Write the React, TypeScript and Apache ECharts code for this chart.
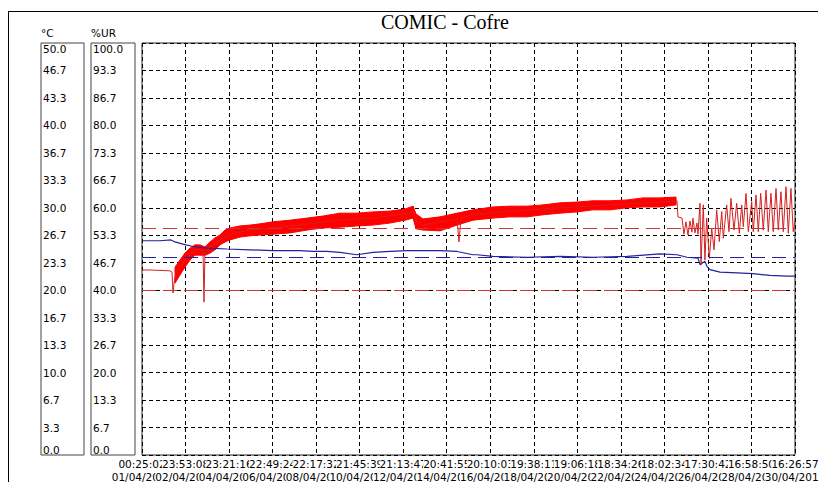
import React, { useEffect, useRef } from "react";
import * as echarts from "echarts";

// X axis tick labels (one every 47h28m)
const timeLabels = ["00:25:02", "23:53:08", "23:21:16", "22:49:24", "22:17:32", "21:45:39", "21:13:47", "20:41:55", "20:10:03", "19:38:11", "19:06:18", "18:34:26", "18:02:34", "17:30:42", "16:58:50", "16:26:57"];
const dateLabels = ["01/04/2012", "02/04/2012", "04/04/2012", "06/04/2012", "08/04/2012", "10/04/2012", "12/04/2012", "14/04/2012", "16/04/2012", "18/04/2012", "20/04/2012", "22/04/2012", "24/04/2012", "26/04/2012", "28/04/2012", "30/04/2012"];

// Y tick labels
const tempTicks = ["0.0", "3.3", "6.7", "10.0", "13.3", "16.7", "20.0", "23.3", "26.7", "30.0", "33.3", "36.7", "40.0", "43.3", "46.7", "50.0"];
const urTicks = ["0.0", "6.7", "13.3", "20.0", "26.7", "33.3", "40.0", "46.7", "53.3", "60.0", "66.7", "73.3", "80.0", "86.7", "93.3", "100.0"];

// Temperature (°C), elapsed hours
const tempHours = [0, 19.6, 31.6, 34.9, 44.7, 55.6, 70.9, 92.7, 117.8, 142.8, 172.3, 186.4, 201.7, 215.9, 234.4, 251.9, 270.4, 288.9, 306.4, 324.9, 343.5, 360.9, 365.3, 382.7, 419.8, 455.8, 491.7, 528.8, 564.8, 583.3, 594.2, 606.2, 608.4, 613.8, 616.0, 619.3, 630.2, 648.8, 666.2, 684.7, 703.3, 712.0];
const tempValues = [26.0, 26.0, 26.1, 25.9, 25.6, 25.3, 25.1, 25.0, 24.9, 24.8, 24.8, 24.7, 24.7, 24.6, 24.3, 24.6, 24.7, 24.8, 24.8, 24.8, 24.7, 24.3, 24.3, 24.1, 24.0, 24.1, 24.0, 24.1, 24.4, 24.3, 24.0, 23.9, 23.1, 23.5, 22.9, 22.5, 22.2, 22.1, 22.0, 21.8, 21.7, 21.7];
const tempLimits = [24];

// Relative humidity (%UR) dense band: hours, lower and upper envelope
const bandHours = [36.0, 41.4, 46.9, 52.3, 57.8, 63.2, 68.7, 74.1, 79.6, 85.0, 90.5, 95.9, 106.9, 117.8, 128.7, 142.8, 161.4, 179.9, 197.4, 215.9, 234.4, 251.9, 270.4, 286.8, 295.5, 298.8, 306.4, 324.9, 343.5, 360.9, 382.7, 401.2, 419.8, 437.2, 455.8, 474.3, 491.7, 510.3, 528.8, 546.3, 564.8, 582.3];
const bandLow = [41.7, 43.7, 45.6, 47.3, 48.5, 48.5, 48.5, 49.0, 49.8, 51.0, 51.7, 52.2, 52.9, 53.2, 53.4, 53.6, 53.9, 54.6, 55.1, 55.3, 55.6, 55.8, 56.3, 57.0, 57.5, 54.9, 54.6, 54.4, 55.8, 57.0, 57.5, 57.8, 57.8, 58.3, 58.7, 59.0, 59.5, 59.5, 60.0, 60.2, 60.2, 60.7];
const bandHigh = [45.6, 47.3, 49.0, 50.2, 51.0, 51.0, 50.5, 51.7, 52.7, 53.4, 54.6, 55.1, 55.6, 55.8, 56.1, 56.6, 57.0, 57.5, 58.0, 58.7, 58.7, 59.0, 59.2, 59.7, 60.4, 58.5, 57.3, 57.8, 58.7, 59.5, 60.2, 60.4, 60.4, 60.7, 61.2, 61.4, 61.7, 61.7, 61.9, 62.4, 62.4, 62.6];

// Relative humidity (%UR) trace: hours and values
const urHours = [0, 8.7, 19.6, 30.5, 32.7, 33.8, 34.9, 37.1, 41.4, 46.9, 52.3, 57.8, 63.2, 66.5, 67.6, 68.7, 74.1, 85.0, 95.9, 117.8, 142.8, 179.9, 215.9, 251.9, 286.8, 295.5, 298.8, 306.4, 324.9, 343.5, 345.6, 347.8, 360.9, 401.2, 455.8, 510.3, 564.8, 583.3, 584.4, 588.8, 590.9, 593.1, 595.3, 597.5, 599.6, 600.7, 602.9, 605.1, 606.2, 608.4, 609.5, 612.0, 613.8, 615.7, 618.6, 621.2, 623.7, 626.6, 629.5, 632.1, 633.8, 637.5, 640.0, 642.2, 645.5, 648.4, 651.3, 653.9, 655.6, 658.6, 661.1, 664.8, 666.5, 669.5, 672.0, 674.6, 677.4, 680.4, 682.9, 685.8, 688.3, 691.3, 693.8, 696.7, 699.2, 702.2, 704.7, 707.6, 710.1, 712.0];
const urValues = [44.9, 44.9, 44.8, 44.7, 44.4, 39.3, 41.7, 44.4, 45.6, 47.3, 48.8, 49.8, 49.8, 49.8, 37.1, 49.5, 50.5, 52.2, 53.6, 54.6, 55.1, 56.1, 57.0, 57.5, 58.5, 59.0, 56.8, 55.8, 56.6, 57.3, 51.7, 57.5, 58.3, 59.2, 60.0, 60.7, 61.4, 61.7, 57.8, 57.5, 53.6, 56.6, 53.4, 56.8, 54.1, 57.5, 53.9, 56.3, 53.6, 61.1, 46.1, 60.7, 47.3, 57.5, 47.7, 55.0, 49.8, 59.5, 51.8, 59.1, 52.6, 60.7, 54.2, 62.3, 54.6, 61.1, 53.8, 60.7, 55.4, 63.5, 54.2, 61.5, 54.2, 63.1, 54.2, 63.5, 54.6, 64.3, 54.2, 63.5, 54.2, 64.7, 54.6, 63.9, 54.2, 65.1, 53.8, 64.7, 54.2, 57.0];
const urLimits = [40, 55];

const MIN_PER_TICK = 2848;
const LABEL_FONT = "DejaVu Sans";

export default function App() {
  const ref = useRef<HTMLDivElement>(null);

  useEffect(() => {
    document.body.style.margin = "0";
    if (!ref.current) return;
    const chart = echarts.init(ref.current, undefined, { renderer: "svg" });

    const toMin = (h: number) => h * 60;
    const tempData = tempHours.map((h, i) => [toMin(h), tempValues[i]]);
    const bandSegments = bandHours.slice(0, -1).map((h, i) => [
      toMin(h), bandLow[i], bandHigh[i],
      toMin(bandHours[i + 1]), bandLow[i + 1], bandHigh[i + 1],
    ]);
    const urData = urHours.map((h, i) => [toMin(h), urValues[i]]);

    const red = "#ff0000";
    const redThin = "#d42020";
    const redDash = "#d03434";
    const blue = "#22229c";

    const boxYAxis = (grid: number, labels: string[], name: string) => ({
      type: "value",
      gridIndex: grid,
      min: 0,
      max: 15,
      interval: 1,
      name,
      nameLocation: "end",
      nameGap: 5,
      nameTextStyle: { fontFamily: LABEL_FONT, fontSize: 10.5, color: "#000", align: "left", verticalAlign: "bottom" },
      axisLine: { show: false },
      axisTick: { show: false },
      splitLine: { show: false },
      axisLabel: {
        inside: true,
        margin: 2,
        fontFamily: LABEL_FONT,
        fontSize: 10.5,
        color: "#000",
        formatter: (v: number) => labels[Math.round(v)],
        verticalAlignMinLabel: "bottom",
        verticalAlignMaxLabel: "top",
      },
    });

    const richLine = { backgroundColor: "#fff", fontFamily: LABEL_FONT, fontSize: 10.5, color: "#000", lineHeight: 13 };

    chart.setOption({
      animation: false,
      title: {
        text: "COMIC - Cofre",
        left: 381,
        top: 12,
        padding: 0,
        textStyle: { fontFamily: "Liberation Serif", fontSize: 20, fontWeight: "normal", color: "#000" },
      },
      graphic: [
        { type: "line", shape: { x1: 8, y1: 11.5, x2: 818, y2: 11.5 }, style: { stroke: "#000", lineWidth: 1 } },
        { type: "line", shape: { x1: 8.5, y1: 11, x2: 8.5, y2: 482 }, style: { stroke: "#000", lineWidth: 1 } },
      ],
      grid: [
        { left: 142, top: 43, width: 653, height: 412, show: true, borderColor: "#222", borderWidth: 1, backgroundColor: "#fff", outerBoundsMode: "none", containLabel: false },
        { left: 41, top: 43, width: 43, height: 412, show: true, borderColor: "#444", borderWidth: 1, outerBoundsMode: "none", containLabel: false },
        { left: 91, top: 43, width: 44, height: 412, show: true, borderColor: "#444", borderWidth: 1, outerBoundsMode: "none", containLabel: false },
      ],
      xAxis: [
        {
          type: "value",
          gridIndex: 0,
          position: "bottom",
          min: 0,
          max: MIN_PER_TICK * 15,
          interval: MIN_PER_TICK,
          axisLine: { show: false },
          axisTick: { show: false },
          axisLabel: { show: false },
          splitLine: { show: true, lineStyle: { color: "#000", type: [4, 3], width: 1 } },
        },
        { type: "value", gridIndex: 1, show: false, min: 0, max: 1 },
        { type: "value", gridIndex: 2, show: false, min: 0, max: 1 },
        {
          type: "category",
          gridIndex: 0,
          position: "bottom",
          boundaryGap: false,
          data: timeLabels,
          axisLine: { show: false },
          axisTick: { show: false },
          splitLine: { show: false },
          axisLabel: {
            interval: 0,
            margin: 2,
            formatter: (_v: string, i: number) => `{t|${timeLabels[i]}}\n{d|${dateLabels[i]}}`,
            rich: { t: richLine, d: richLine },
          },
        },
      ],
      yAxis: [
        {
          type: "value",
          gridIndex: 0,
          min: 0,
          max: 15,
          interval: 1,
          axisLine: { show: false },
          axisTick: { show: false },
          axisLabel: { show: false },
          splitLine: { show: true, lineStyle: { color: "#000", type: [4, 3], width: 1 } },
        },
        { type: "value", gridIndex: 0, min: 0, max: 50, show: false, splitLine: { show: false } },
        { type: "value", gridIndex: 0, min: 0, max: 100, show: false, splitLine: { show: false } },
        boxYAxis(1, tempTicks, "°C"),
        boxYAxis(2, urTicks, "%UR"),
      ],
      series: [
        {
          name: "Temperatura",
          type: "line",
          xAxisIndex: 0,
          yAxisIndex: 1,
          data: tempData,
          showSymbol: false,
          symbol: "none",
          lineStyle: { color: blue, width: 1.2 },
          markLine: {
            silent: true,
            symbol: "none",
            label: { show: false },
            lineStyle: { color: blue, type: [14, 7], width: 1 },
            data: tempLimits.map((v) => ({ yAxis: v })),
          },
        },
        {
          name: "UR banda",
          type: "custom",
          coordinateSystem: "cartesian2d",
          xAxisIndex: 0,
          yAxisIndex: 2,
          data: bandSegments,
          encode: { x: [0, 3], y: [1, 2, 4, 5] },
          renderItem: (_params: any, api: any) => {
            const a = api.coord([api.value(0), api.value(1)]);
            const b = api.coord([api.value(0), api.value(2)]);
            const c = api.coord([api.value(3), api.value(5)]);
            const d = api.coord([api.value(3), api.value(4)]);
            return {
              type: "polygon",
              shape: { points: [a, b, c, d] },
              style: { fill: red, stroke: red, lineWidth: 1 },
            };
          },
        },
        {
          name: "UR",
          type: "line",
          xAxisIndex: 0,
          yAxisIndex: 2,
          data: urData,
          symbol: "none",
          lineStyle: { color: redThin, width: 1 },
          markLine: {
            silent: true,
            symbol: "none",
            label: { show: false },
            lineStyle: { color: redDash, type: [14, 7], width: 1 },
            data: urLimits.map((v) => ({ yAxis: v })),
          },
        },
      ],
    });

    return () => chart.dispose();
  }, []);

  return <div ref={ref} style={{ width: 819, height: 482 }} />;
}
